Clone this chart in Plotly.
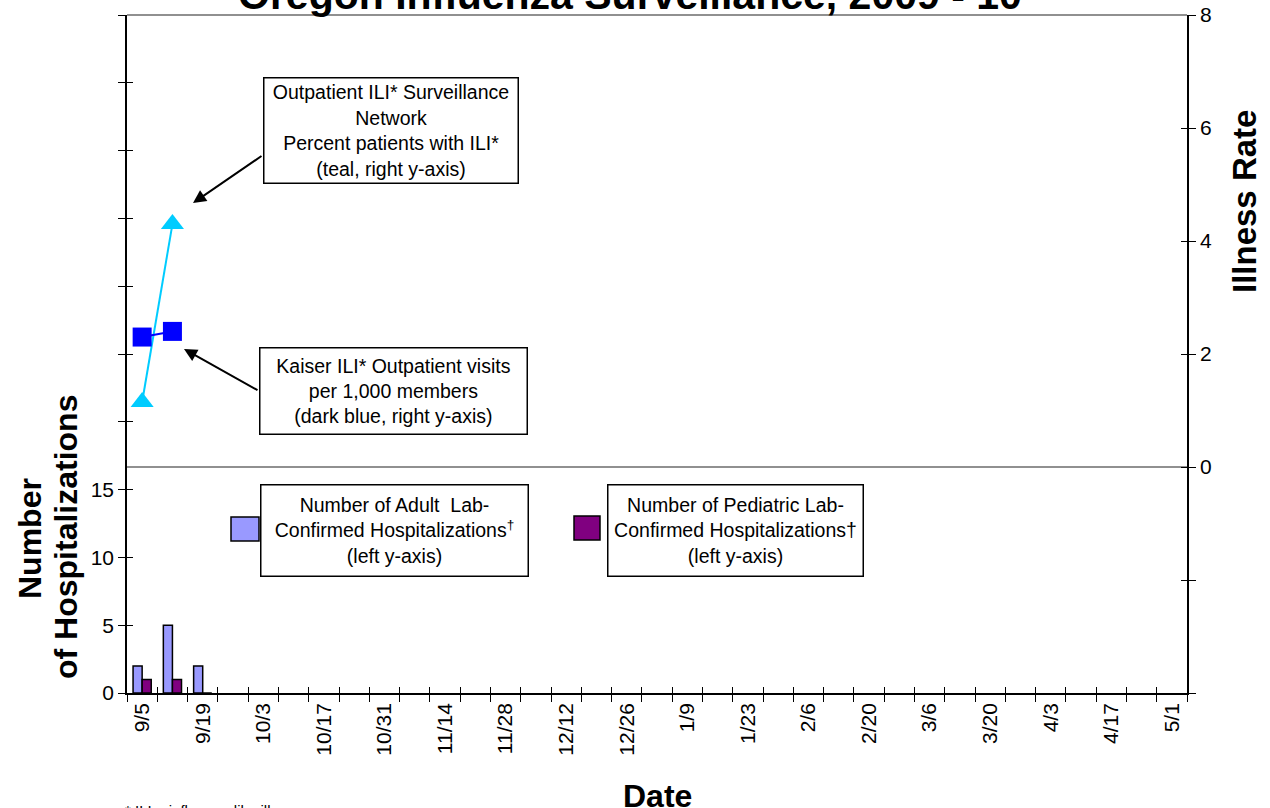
import plotly.graph_objects as go

FONT = "Arial, Liberation Sans, sans-serif"

weeks = ["9/5", "9/12", "9/19", "9/26", "10/3", "10/10", "10/17", "10/24", "10/31",
         "11/7", "11/14", "11/21", "11/28", "12/5", "12/12", "12/19", "12/26",
         "1/2", "1/9", "1/16", "1/23", "1/30", "2/6", "2/13", "2/20", "2/27",
         "3/6", "3/13", "3/20", "3/27", "4/3", "4/10", "4/17", "4/24", "5/1"]

adult_hosp = [2, 5, 2]
pediatric_hosp = [1, 1, 0]
kaiser_rate = [2.3, 2.4]
ili_percent = [1.15, 4.3]

left_ticks = list(range(0, 55, 5))
left_labels = [str(v) if v <= 15 else "" for v in left_ticks]
right_ticks = list(range(-4, 10, 2))
right_labels = [str(v) if v >= 0 else "" for v in right_ticks]
week_labels = [w if i % 2 == 0 else "" for i, w in enumerate(weeks)]

# plot area in pixels, used to place the boxes
L, R, T, B = 127, 1187, 15, 693


def px(x):
    return (x - L) / (R - L)


def py(y):
    return (B - y) / (B - T)


fig = go.Figure()

fig.add_trace(go.Bar(
    x=weeks[:len(adult_hosp)], y=adult_hosp, name="Adult",
    marker=dict(color="#9999FF", line=dict(color="black", width=1.5)),
))
fig.add_trace(go.Bar(
    x=weeks[:len(pediatric_hosp)], y=pediatric_hosp, name="Pediatric",
    marker=dict(color="#800080", line=dict(color="black", width=1.5)),
))
fig.add_trace(go.Scatter(
    x=weeks[:len(ili_percent)], y=ili_percent, yaxis="y2", mode="lines+markers",
    line=dict(color="#00CCFF", width=2),
    marker=dict(symbol="triangle-up", size=20, color="#00CCFF"),
))
fig.add_trace(go.Scatter(
    x=weeks[:len(kaiser_rate)], y=kaiser_rate, yaxis="y2", mode="lines+markers",
    line=dict(color="#0000FF", width=2),
    marker=dict(symbol="square", size=19, color="#0000FF"),
))
# empty traces so the tick-only overlay axes get drawn
fig.add_trace(go.Scatter(x=[None], y=[None], xaxis="x2", yaxis="y3",
                         mode="markers", hoverinfo="skip"))
fig.add_trace(go.Scatter(x=[None], y=[None], xaxis="x2", yaxis="y4",
                         mode="markers", hoverinfo="skip"))

boxes = [
    ("Outpatient ILI* Surveillance<br>Network<br>Percent patients with ILI*<br>(teal, right y-axis)",
     263, 518, 77, 183),
    ("Kaiser ILI* Outpatient visits<br>per 1,000 members<br>(dark blue, right y-axis)",
     259, 527, 348, 435),
    ("Number of Adult  Lab-<br>Confirmed Hospitalizations<sup>†</sup><br>(left y-axis)",
     260, 528, 484, 576),
    ("Number of Pediatric Lab-<br>Confirmed Hospitalizations†<br>(left y-axis)",
     607, 863, 484, 576),
]

annotations = []
for text, x0, x1, y0, y1 in boxes:
    annotations.append(dict(
        text=text, xref="paper", yref="paper",
        x=px((x0 + x1) / 2), y=py((y0 + y1) / 2),
        xanchor="center", yanchor="middle", showarrow=False,
        width=x1 - x0 - 4, height=y1 - y0 - 4, borderpad=1,
        bordercolor="black", borderwidth=1.5, bgcolor="white",
        font=dict(size=19.5, color="black", family=FONT),
    ))

# arrows from the boxes to the lines
for hx, hy, tx, ty in [(193, 203, 263, 155), (184, 349, 259, 391)]:
    annotations.append(dict(
        text="", xref="paper", yref="paper", x=px(hx), y=py(hy),
        ax=tx - hx, ay=ty - hy, showarrow=True,
        arrowhead=2, arrowsize=1.3, arrowwidth=2, arrowcolor="black",
    ))


def label(text, x, y, size, angle=0, anchor="center"):
    return dict(text=text, xref="paper", yref="paper", x=px(x), y=py(y),
                xanchor=anchor, yanchor="middle", showarrow=False, textangle=angle,
                font=dict(size=size, color="black", family=FONT))


annotations += [
    label("<b>Oregon Influenza Surveillance, 2009 - 10</b>", 630, -5, 41),
    label("<b>Number</b>", 30, 539, 32, -90),
    label("<b>of Hospitalizations</b>", 66, 537, 32, -90),
    label("<b>Illness Rate</b>", 1245, 202, 33, -90),
    label("<b>Date</b>", 657, 796, 32),
    label("* ILI = influenza-like illness", 123, 811, 15, anchor="left"),
]

shapes = [
    dict(type="line", xref="paper", yref="paper", x0=0, x1=1, y0=1, y1=1,
         line=dict(color="#909090", width=2)),
    dict(type="rect", xref="paper", yref="paper",
         x0=px(231), x1=px(259), y0=py(541), y1=py(517),
         fillcolor="#9999FF", line=dict(color="black", width=1.5)),
    dict(type="rect", xref="paper", yref="paper",
         x0=px(574), x1=px(600), y0=py(540), y1=py(516),
         fillcolor="#800080", line=dict(color="black", width=1.5)),
]

# overlay axes only carry the inner half of the crossing tick marks
inner = dict(ticks="inside", ticklen=6, tickcolor="black", tickwidth=1,
             showticklabels=False, showgrid=False, zeroline=False,
             showline=False, automargin=False, fixedrange=True)

fig.update_layout(
    width=1270, height=808,
    margin=dict(l=L, r=1270 - R, t=T, b=808 - B, autoexpand=False),
    plot_bgcolor="white", paper_bgcolor="white",
    font=dict(family=FONT, color="black", size=21),
    showlegend=False,
    barmode="group", bargap=0.4, bargroupgap=0,
    xaxis=dict(
        type="category", categoryorder="array", categoryarray=weeks,
        range=[-0.5, len(weeks) - 0.5],
        tickmode="array", tickvals=weeks, ticktext=week_labels,
        tickson="boundaries", ticks="outside", ticklen=7, tickcolor="black",
        tickangle=-90, tickfont=dict(size=21), automargin=False,
        showline=True, linecolor="black", linewidth=1.5,
        showgrid=False, zeroline=False,
    ),
    xaxis2=dict(inner, overlaying="x", anchor="y3", side="bottom",
                range=[-0.5, len(weeks) - 0.5], tick0=-0.5, dtick=1),
    yaxis=dict(
        range=[0, 50], tickmode="array", tickvals=left_ticks, ticktext=left_labels,
        ticks="outside", ticklen=7, tickcolor="black", automargin=False,
        showline=True, linecolor="black", linewidth=1.5,
        showgrid=False, zeroline=False,
    ),
    yaxis2=dict(
        range=[-4, 8], overlaying="y", side="right",
        tickmode="array", tickvals=right_ticks, ticktext=right_labels,
        ticks="outside", ticklen=7, tickcolor="black", automargin=False,
        showline=True, linecolor="black", linewidth=1.5,
        showgrid=False, zeroline=True, zerolinecolor="#909090", zerolinewidth=1.5,
    ),
    yaxis3=dict(inner, overlaying="y", anchor="x2", side="left",
                range=[0, 50], tick0=0, dtick=5),
    yaxis4=dict(inner, overlaying="y", anchor="x2", side="right",
                range=[-4, 8], tick0=-4, dtick=2),
    annotations=annotations,
    shapes=shapes,
)

fig.write_html("out.html", config={"displayModeBar": False},
               post_script="document.body.style.margin = '0';")
